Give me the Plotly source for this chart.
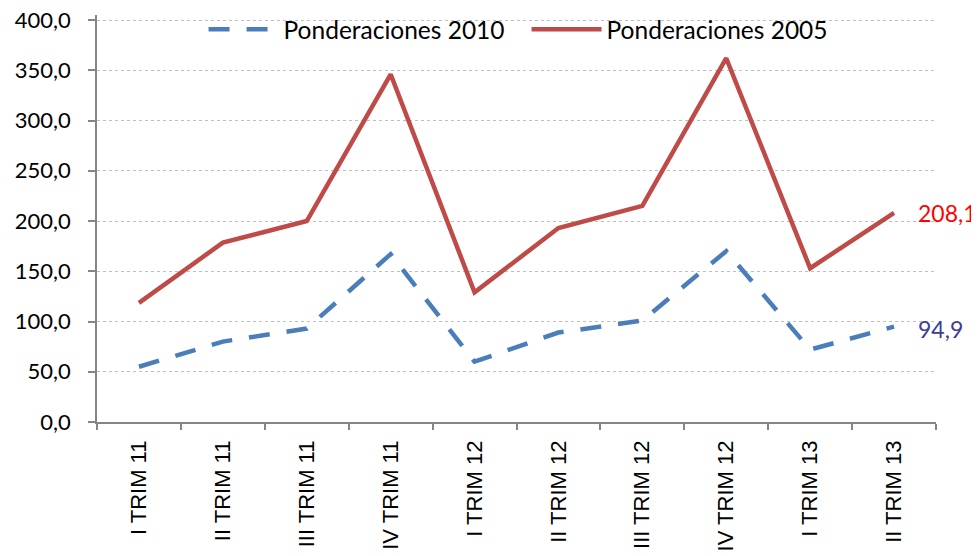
import plotly.graph_objects as go

categories = ["I TRIM 11", "II TRIM 11", "III TRIM 11", "IV TRIM 11", "I TRIM 12",
              "II TRIM 12", "III TRIM 12", "IV TRIM 12", "I TRIM 13", "II TRIM 13"]
pond_2010 = [55.0, 80.0, 93.0, 167.0, 60.0, 89.0, 101.0, 170.0, 72.0, 94.9]
pond_2005 = [118.5, 178.5, 200.0, 346.0, 129.0, 193.0, 215.0, 362.0, 153.0, 208.1]
y_ticks = [0, 50, 100, 150, 200, 250, 300, 350, 400]

def fmt(v):
    return f"{v:.1f}".replace(".", ",")

fig = go.Figure()
fig.add_trace(go.Scatter(
    x=categories, y=pond_2010, mode="lines", name="Ponderaciones 2010",
    line=dict(color="#4A7EBB", width=4.5, dash="21px,17px"),
))
fig.add_trace(go.Scatter(
    x=categories, y=pond_2005, mode="lines", name="Ponderaciones 2005",
    line=dict(color="#BE4B48", width=4.5),
))

fig.add_annotation(x=categories[-1], y=pond_2005[-1], text=fmt(pond_2005[-1]),
                   xanchor="left", yanchor="middle", xshift=22, yshift=0,
                   showarrow=False, font=dict(family="Lato", size=23, color="#FF0000"))
fig.add_annotation(x=categories[-1], y=pond_2010[-1], text=fmt(pond_2010[-1]),
                   xanchor="left", yanchor="middle", xshift=22, yshift=-2,
                   showarrow=False, font=dict(family="Lato", size=23, color="#3B3B98"))

fig.update_layout(
    width=979, height=556,
    margin=dict(l=89, r=51, t=7, b=142, autoexpand=False),
    paper_bgcolor="white", plot_bgcolor="white",
    separators=",.",
    showlegend=True,
    legend=dict(orientation="h", x=0.127, y=0.965, xanchor="left", yanchor="middle",
                font=dict(family="Lato", size=24.5, color="#000000"),
                bgcolor="rgba(0,0,0,0)", itemwidth=70, traceorder="normal",
                entrywidth=238),
    xaxis=dict(
        type="category", range=[-0.5, 9.5], tickson="boundaries",
        showline=True, linecolor="#868686", linewidth=1.5,
        ticks="outside", ticklen=6, tickcolor="#868686", tickwidth=1.5,
        tickangle=-90, tickfont=dict(family="Liberation Sans", size=22, color="#000000"),
        showgrid=False, automargin=False, ticklabelstandoff=8,
    ),
    yaxis=dict(
        range=[0, 405], tickvals=y_ticks, tickformat=".1f",
        showline=True, linecolor="#868686", linewidth=1.5,
        ticks="outside", ticklen=7, tickcolor="#868686", tickwidth=1.5,
        tickfont=dict(family="Lato", size=22, color="#000000"),
        showgrid=True, gridcolor="#BFBFBF", gridwidth=1, griddash="dot",
        zeroline=False, automargin=False, ticklabelstandoff=13,
        ticklabeloverflow="allow",
    ),
)

fig.write_html("out.html")
